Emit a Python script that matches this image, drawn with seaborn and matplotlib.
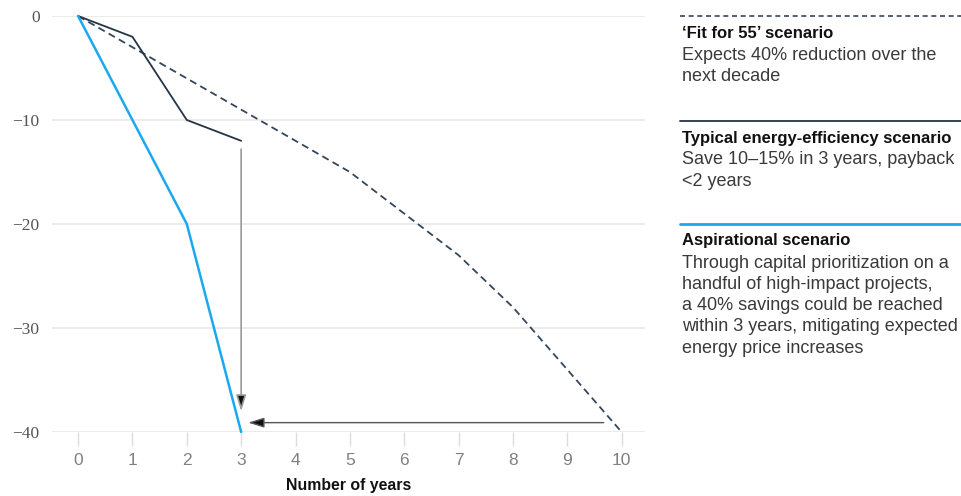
import numpy as np
import pandas as pd
import matplotlib
matplotlib.use("Agg")
import matplotlib.pyplot as plt
import seaborn as sns

# ---- data ----
years_fit = [0, 1, 2, 3, 4, 5, 6, 7, 8, 9, 10]
fit55 = [0, -3, -6, -9, -12, -15, -19, -23, -28, -34, -40]
years_typ = [0, 1, 2, 3]
typical = [0, -2, -10, -12]
years_asp = [0, 1, 2, 3]
aspirational = [0, -10, -20, -40]
x_ticks = [0, 1, 2, 3, 4, 5, 6, 7, 8, 9, 10]
y_ticks = [0, -10, -20, -30, -40]
x_label = "Number of years"

legend_titles = ["\u2018Fit for 55\u2019 scenario",
                 "Typical energy-efficiency scenario",
                 "Aspirational scenario"]
legend_bodies = [["Expects 40% reduction over the", "next decade"],
                 ["Save 10\u201315% in 3 years, payback", "<2 years"],
                 ["Through capital prioritization on a",
                  "handful of high-impact projects,",
                  "a 40% savings could be reached",
                  "within 3 years, mitigating expected",
                  "energy price increases"]]

# vertical arrow (typical end -> target), horizontal arrow (fit end -> aspirational end)
v_arrow = (3, -12.8, 3, -38.0)
h_arrow = (9.67, -39.1, 3.13, -39.1)

C_DASH = "#34465c"
C_DARK = "#253546"
C_BLUE = "#1aa8f0"

sns.set_theme(style="white")
plt.rcParams['font.family'] = ['Liberation Sans', 'DejaVu Sans']

W, H = 962, 496
fig = plt.figure(figsize=(W / 100, H / 100), dpi=100)
ax = fig.add_axes([52 / W, 1 - 432 / H, (645 - 52) / W, (432 - 16) / H])

df_fit = pd.DataFrame({"x": years_fit, "y": fit55})
df_typ = pd.DataFrame({"x": years_typ, "y": typical})
df_asp = pd.DataFrame({"x": years_asp, "y": aspirational})

sns.lineplot(data=df_fit, x="x", y="y", ax=ax, color=C_DASH, lw=1.3,
             linestyle=(0, (4, 2.5)), clip_on=False, zorder=3)
sns.lineplot(data=df_typ, x="x", y="y", ax=ax, color=C_DARK, lw=1.3,
             clip_on=False, zorder=3)
sns.lineplot(data=df_asp, x="x", y="y", ax=ax, color=C_BLUE, lw=1.8,
             clip_on=False, zorder=4)

ax.set_xlim(-0.48, 10.43)
ax.set_ylim(-40, 0)
for yv in y_ticks:
    ax.axhline(yv, color="#e8e8e8", lw=1.2, zorder=1)

ax.set_xticks(x_ticks)
ax.set_xticklabels([str(v) for v in x_ticks], color="#808080", fontsize=12.5)
ax.set_yticks(y_ticks)
ax.set_yticklabels(["0" if v == 0 else "\u2212" + str(-v) for v in y_ticks],
                   color="#555555", fontsize=12.5, family="Liberation Serif")
ax.tick_params(axis="x", length=10, width=1, color="#dddddd", pad=5, direction="out")
ax.tick_params(axis="y", length=0, pad=9)
ax.xaxis.set_ticks_position("bottom")
for s in ax.spines.values():
    s.set_visible(False)
ax.set_xlabel(x_label, fontsize=11.4, fontweight="bold", color="#111111", labelpad=7)
ax.set_ylabel("")
ax.grid(False)

ax.annotate("", xy=(v_arrow[2], v_arrow[3]), xytext=(v_arrow[0], v_arrow[1]),
            arrowprops=dict(arrowstyle="-|>,head_length=0.8,head_width=0.25",
                            ec="#9a9a9a", fc="#111111", lw=1.2, shrinkA=0, shrinkB=0),
            annotation_clip=False)
ax.annotate("", xy=(h_arrow[2], h_arrow[3]), xytext=(h_arrow[0], h_arrow[1]),
            arrowprops=dict(arrowstyle="-|>,head_length=0.8,head_width=0.25",
                            ec="#555555", fc="#111111", lw=1.0, shrinkA=0, shrinkB=0),
            annotation_clip=False)

# legend blocks on the right
def fx(px):
    return px / W

def fy(py):
    return 1 - py / H

seps = [16, 121, 224]
styles = [dict(color=C_DASH, lw=1.2, linestyle=(0, (3, 2.2))),
          dict(color=C_DARK, lw=1.3),
          dict(color=C_BLUE, lw=2.0)]
for sep, st, title, body in zip(seps, styles, legend_titles, legend_bodies):
    fig.add_artist(plt.Line2D([fx(680), fx(962)], [fy(sep), fy(sep)],
                              transform=fig.transFigure, **st))
    fig.text(fx(682), fy(sep + 17), title, fontsize=12.0, fontweight="bold",
             color="#111111", va="center", ha="left")
    for i, line in enumerate(body):
        fig.text(fx(682), fy(sep + 39 + i * 21.3), line, fontsize=13,
                 color="#3a3a3a", va="center", ha="left")

fig.savefig("out.png", dpi=100)
